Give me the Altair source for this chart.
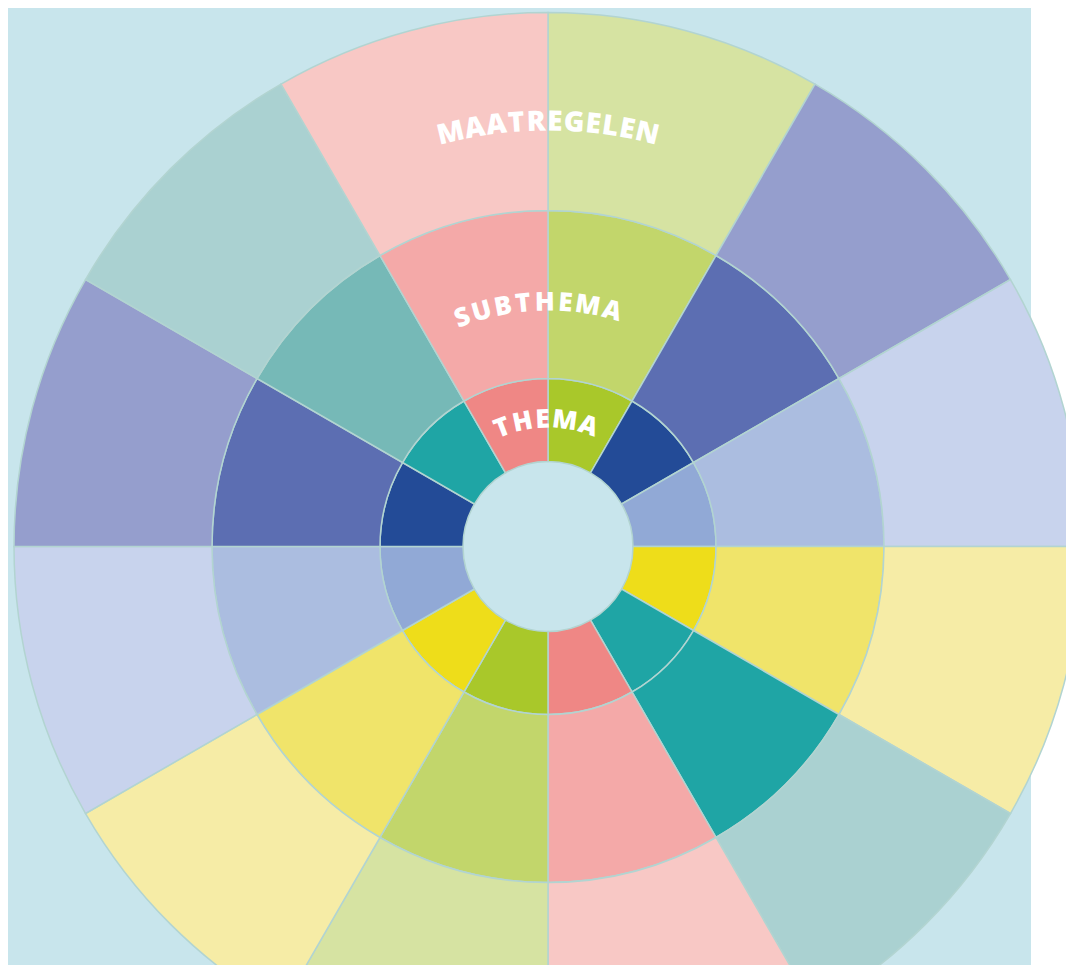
import math
import altair as alt
import pandas as pd

# ---- data -------------------------------------------------------------
# twelve equal sectors, clockwise from 12 o'clock
themes = ["groen", "donkerblauw", "lichtblauw", "geel", "teal_donker", "roze",
          "groen", "geel", "lichtblauw", "donkerblauw", "teal", "roze"]
weights = [1, 1, 1, 1, 1, 1, 1, 1, 1, 1, 1, 1]
levels = ["THEMA", "SUBTHEMA", "MAATREGELEN"]
labels = ["THEMA", "SUBTHEMA", "MAATREGELEN"]

# ---- styling ----------------------------------------------------------
RING = {"THEMA": (85, 168), "SUBTHEMA": (168, 336), "MAATREGELEN": (336, 534)}
CX, CY = 540, 538.5
W, H = 1058, 957
BG = "#c8e5ec"
EDGE = "#b2d4d1"

palette = {
    "groen": ["#a9c82a", "#c2d66b", "#d6e3a2"],
    "donkerblauw": ["#234b97", "#5c6eb2", "#959ecd"],
    "lichtblauw": ["#91a9d6", "#abbde0", "#c8d3ed"],
    "geel": ["#eedd1a", "#f0e46a", "#f6eca6"],
    "teal_donker": ["#1fa5a5", "#1fa5a5", "#aad1d1"],
    "teal": ["#1fa5a5", "#76b9b7", "#aad1d1"],
    "roze": ["#ef8785", "#f4a9a8", "#f8c8c5"],
}

LABEL_STYLE = {
    "THEMA": dict(r=127, fs=26, sp=2.6, off=-1.0),
    "SUBTHEMA": dict(r=244, fs=26, sp=3.0, off=-2.4),
    "MAATREGELEN": dict(r=424, fs=28, sp=1.2, off=0.0),
}
CHAR_W = {"M": 0.94, "A": 0.73, "T": 0.63, "R": 0.69, "E": 0.56, "G": 0.73,
          "L": 0.57, "N": 0.81, "S": 0.56, "U": 0.76, "B": 0.70, "H": 0.80}

# ---- tables -----------------------------------------------------------
rows = []
total = sum(weights)
cum = 0
for t, w in zip(themes, weights):
    a0 = cum / total * 360
    cum += w
    a1 = cum / total * 360
    for lvl in levels:
        r0, r1 = RING[lvl]
        rows.append(dict(theme=t, level=lvl, key=f"{t}|{lvl}",
                         a0=a0, a1=a1, r0=r0, r1=r1))
df = pd.DataFrame(rows)

dom, rng = [], []
for t, cols in palette.items():
    for lvl, c in zip(levels, cols):
        dom.append(f"{t}|{lvl}")
        rng.append(c)

theta_scale = alt.Scale(domain=[0, 360], range=[0, 2 * math.pi])

bg = alt.Chart(pd.DataFrame({"a": [0]})).mark_rect(color=BG).encode(
    x=alt.value(0), x2=alt.value(1023), y=alt.value(0), y2=alt.value(H)
)

arcs = alt.Chart(df).mark_arc(stroke=EDGE, strokeWidth=1.5).encode(
    theta=alt.Theta("a0:Q", scale=theta_scale),
    theta2="a1:Q",
    radius=alt.Radius("r1:Q", scale=None),
    radius2="r0:Q",
    color=alt.Color("key:N", scale=alt.Scale(domain=dom, range=rng), legend=None),
    x=alt.value(CX),
    y=alt.value(CY),
)

layers = [bg, arcs]
for lab in labels:
    st = LABEL_STYLE[lab]
    widths = [CHAR_W.get(c, 0.65) * st["fs"] + st["sp"] for c in lab]
    L = sum(widths) - st["sp"]
    pos = 0
    trows = []
    for c, wdt in zip(lab, widths):
        cw = wdt - st["sp"]
        s = pos + cw / 2 - L / 2
        ang = (math.degrees(s / st["r"]) + st["off"]) % 360
        trows.append(dict(ch=c, ang=ang, rad=st["r"], rot=ang))
        pos += wdt
    tdf = pd.DataFrame(trows)
    layers.append(
        alt.Chart(tdf).mark_text(font="Open Sans", fontWeight=800, color="white",
                                 fontSize=st["fs"], baseline="middle", align="center").encode(
            theta=alt.Theta("ang:Q", scale=theta_scale),
            radius=alt.Radius("rad:Q", scale=None),
            angle=alt.Angle("rot:Q", scale=None),
            text="ch:N",
            x=alt.value(CX),
            y=alt.value(CY),
        )
    )

chart = alt.layer(*layers).properties(
    width=W, height=H, autosize="none", padding=0, background="white"
).configure_view(stroke=None)

chart.save("out.html", embed_options={"renderer": "svg", "actions": False})
